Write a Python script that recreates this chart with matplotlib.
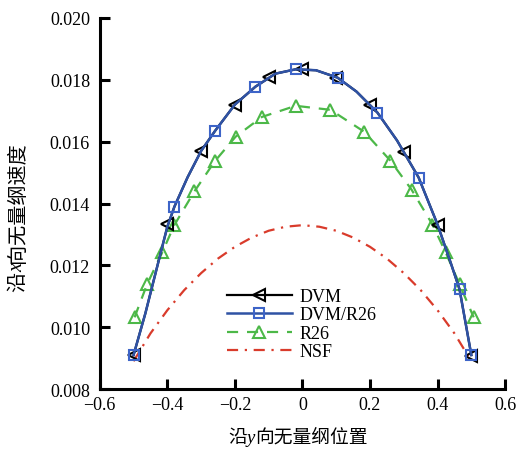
import matplotlib
matplotlib.use("Agg")
import matplotlib.pyplot as plt
from matplotlib.lines import Line2D

plt.rcParams['font.family'] = ['Liberation Serif', 'Noto Sans CJK SC', 'DejaVu Sans']
plt.rcParams['axes.unicode_minus'] = True

# DVM
dvm_x = [-0.5, -0.4, -0.3, -0.2, -0.1, 0.0, 0.1, 0.2, 0.3, 0.4, 0.5]
dvm_y = [0.0091, 0.01335, 0.0157, 0.0172, 0.0181, 0.01836, 0.01807, 0.01719, 0.01568, 0.01332, 0.00906]

# DVM/R26 (line points; squares at selected points)
hyb_x = [-0.5, -0.465, -0.44, -0.4, -0.379, -0.34, -0.3, -0.258, -0.2, -0.139, -0.08, -0.02,
         0.04, 0.104, 0.16, 0.222, 0.28, 0.344, 0.4, 0.44, 0.465, 0.5]
hyb_y = [0.0091, 0.01045, 0.01153, 0.01325, 0.0139, 0.01485, 0.0157, 0.01636, 0.0172, 0.01778, 0.0182, 0.01834,
         0.01831, 0.01807, 0.01762, 0.01694, 0.01604, 0.01484, 0.01332, 0.01205, 0.01123, 0.0091]
hyb_mark = [0, 4, 7, 9, 11, 13, 15, 17, 20, 21]

# R26
r26_x = [-0.497, -0.46, -0.415, -0.38, -0.32, -0.26, -0.198, -0.12, -0.02, 0.083, 0.183, 0.26,
         0.323, 0.385, 0.424, 0.465, 0.507]
r26_y = [0.01032, 0.01139, 0.01242, 0.01329, 0.01439, 0.01536, 0.01616, 0.0168, 0.01716, 0.01703,
         0.01632, 0.01539, 0.01445, 0.01332, 0.01242, 0.01139, 0.01032]

# NSF
nsf_x = [-0.5, -0.45, -0.4, -0.35, -0.3, -0.25, -0.2, -0.15, -0.1, -0.05, 0.0,
         0.05, 0.1, 0.15, 0.2, 0.25, 0.3, 0.35, 0.4, 0.45, 0.5]
nsf_y = [0.0089, 0.0098, 0.01055, 0.0112, 0.01175, 0.01222, 0.0126, 0.0129, 0.01312, 0.01325, 0.0133,
         0.01325, 0.01312, 0.0129, 0.0126, 0.01222, 0.01175, 0.0112, 0.01055, 0.0098, 0.0089]

xticks = [-0.6, -0.4, -0.2, 0, 0.2, 0.4, 0.6]
xticklabels = ['\u22120.6', '\u22120.4', '\u22120.2', '0', '0.2', '0.4', '0.6']
yticks = [0.008, 0.010, 0.012, 0.014, 0.016, 0.018, 0.020]
yticklabels = ['0.008', '0.010', '0.012', '0.014', '0.016', '0.018', '0.020']

xlabel_parts = ['沿', 'y', '向无量纲位置']
ylabel_parts = ['沿', 'x', '向无量纲速度']

BLACK = 'black'
BLUE = '#2F52A4'
BLUE_M = '#3D64C8'
GREEN = '#4CB848'
RED = '#D93B2B'

fig = plt.figure(figsize=(5.17, 4.52), dpi=100)
ax = fig.add_axes([0.193, 0.137, 0.784, 0.821])

# DVM: line follows same profile as hybrid (hidden beneath), markers at DVM points
ax.plot(hyb_x, hyb_y, color=BLACK, lw=1.6, zorder=3)
ax.plot(dvm_x, dvm_y, ls='none', marker='<', ms=9, mfc='none', mec=BLACK, mew=1.5, zorder=3)
ax.plot(hyb_x, hyb_y, color=BLUE, lw=1.8, marker='s', ms=7.5, mfc='none', mec=BLUE_M, mew=1.5,
        markevery=hyb_mark, zorder=4)
ax.plot(r26_x, r26_y, color=GREEN, lw=1.6, ls=(0, (5, 4)), marker='^', ms=9, mfc='none',
        mec=GREEN, mew=1.5, zorder=2)
ax.plot(nsf_x, nsf_y, color=RED, lw=1.6, ls=(0, (5, 3, 1, 3)), zorder=1)

handles = [
    Line2D([], [], color=BLACK, lw=1.6, marker='<', ms=9, mfc='none', mec=BLACK, mew=1.5),
    Line2D([], [], color=BLUE, lw=1.8, marker='s', ms=7.5, mfc='none', mec=BLUE_M, mew=1.5),
    Line2D([], [], color=GREEN, lw=1.6, ls=(0, (5, 4)), marker='^', ms=9, mfc='none', mec=GREEN, mew=1.5),
    Line2D([], [], color=RED, lw=1.6, ls=(0, (5, 3, 1, 3))),
]
labels = ['DVM', 'DVM/R26', 'R26', 'NSF']

ax.set_xlim(-0.6, 0.6)
ax.set_ylim(0.008, 0.020)
ax.set_xticks(xticks)
ax.set_xticklabels(xticklabels)
ax.set_yticks(yticks)
ax.set_yticklabels(yticklabels)
ax.tick_params(direction='in', length=7, width=2.2, labelsize=13)
ax.tick_params(axis='y', pad=7)
ax.tick_params(axis='x', pad=5)
for s in ['top', 'right']:
    ax.spines[s].set_visible(False)
for s in ['left', 'bottom']:
    ax.spines[s].set_linewidth(2.2)

ax.legend(handles, labels, loc='upper left', bbox_to_anchor=(0.295, 0.292), frameon=False, fontsize=13,
          handlelength=3.6, handletextpad=0.45, labelspacing=0.08, borderaxespad=0)

# axis labels composed from pieces (CJK + italic serif letter)
renderer = fig.canvas.get_renderer()

def make_piece(i, p, size):
    if i == 1:
        return fig.text(0, 0, p, fontsize=size, family=['Liberation Serif'], style='italic')
    return fig.text(0, 0, p, fontsize=size, family=['Noto Sans CJK SC'])

def place_horizontal(parts, cx, cy, size):
    W = fig.bbox.width
    texts = [make_piece(i, p, size) for i, p in enumerate(parts)]
    for t in texts:
        t.set_ha('left')
        t.set_va('baseline')
    lens = [t.get_window_extent(renderer).width for t in texts]
    pos = cx * W - sum(lens) / 2
    for t, L in zip(texts, lens):
        t.set_position((pos / W, cy))
        pos += L

def place_vertical(parts, cx, cy, size):
    H = fig.bbox.height
    texts = [make_piece(i, p, size) for i, p in enumerate(parts)]
    lens = [t.get_window_extent(renderer).width for t in texts]
    pos = cy * H - sum(lens) / 2
    for t, L in zip(texts, lens):
        t.set_rotation(90)
        t.set_ha('center')
        t.set_va('bottom')
        t.set_position((cx, pos / H))
        pos += L

place_horizontal(xlabel_parts, 298 / 517, 1 - 443 / 452, 13.5)
place_vertical(ylabel_parts, 18 / 517, 1 - 217 / 452, 14.5)

fig.savefig('out.png', dpi=100)
